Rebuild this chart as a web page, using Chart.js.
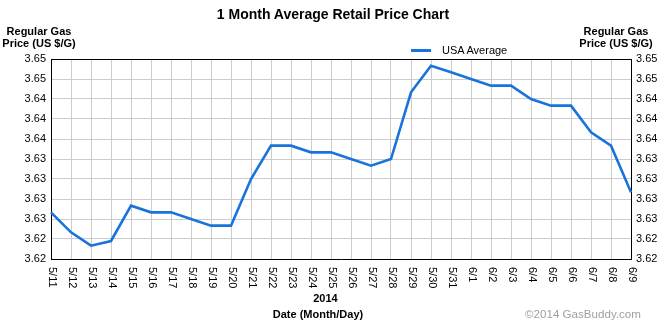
<!DOCTYPE html>
<html>
<head>
<meta charset="utf-8">
<title>1 Month Average Retail Price Chart</title>
<script src="https://cdn.jsdelivr.net/npm/chart.js@4.4.1/dist/chart.umd.min.js"></script>
<style>
  body { margin: 0; background: #fff; font-family: 'Liberation Sans', Arial, sans-serif; }
  #wrap { position: relative; width: 670px; height: 325px; overflow: hidden; }
  #wrap canvas { position: absolute; left: 0; top: 0; }
  .txt { position: absolute; white-space: nowrap; color: #000; line-height: 1; }
  .bold { font-weight: bold; }
  #title { left: 0; width: 666px; top: 6.5px; text-align: center; font-size: 14px; }
  .yhead { top: 25px; width: 76px; text-align: center; font-size: 11px; line-height: 12px; }
  #yhead-left { left: 1px; }
  #yhead-right { left: 578px; }
  #year { left: 300px; width: 51px; text-align: center; top: 293.4px; font-size: 11px; }
  #xtitle { left: 218px; width: 200px; text-align: center; top: 309px; font-size: 11px; }
  #credit { left: 525px; top: 308px; font-size: 11.6px; color: #a0a0a0; }
  #legend { left: 411px; top: 44.7px; font-size: 11px; }
  #legend .swatch { display: inline-block; width: 20px; height: 3px; vertical-align: 2px; margin-right: 11px; }
</style>
</head>
<body>
<div id="wrap">
  <canvas id="price-chart" width="670" height="325"></canvas>
  <div id="title" class="txt bold">1 Month Average Retail Price Chart</div>
  <div id="yhead-left" class="txt bold yhead">Regular Gas<br>Price (US $/G)</div>
  <div id="yhead-right" class="txt bold yhead">Regular Gas<br>Price (US $/G)</div>
  <div id="legend" class="txt"></div>
  <div id="year" class="txt bold">2014</div>
  <div id="xtitle" class="txt bold">Date (Month/Day)</div>
  <div id="credit" class="txt">©2014 GasBuddy.com</div>
</div>
<script>
// daily national average, regular gas
const dates = [
  '5/11', '5/12', '5/13', '5/14', '5/15', '5/16', '5/17', '5/18', '5/19', '5/20',
  '5/21', '5/22', '5/23', '5/24', '5/25', '5/26', '5/27', '5/28', '5/29', '5/30',
  '5/31', '6/1', '6/2', '6/3', '6/4', '6/5', '6/6', '6/7', '6/8', '6/9'
]
const usaAverage = [
  3.627, 3.624, 3.622, 3.6227, 3.628, 3.627, 3.627, 3.626, 3.625, 3.625,
  3.632, 3.637, 3.637, 3.636, 3.636, 3.635, 3.634, 3.635, 3.645, 3.649,
  3.648, 3.647, 3.646, 3.646, 3.644, 3.643, 3.643, 3.639, 3.637, 3.630
]
const yTickLabels = ['3.62', '3.62', '3.63', '3.63', '3.63', '3.63', '3.64', '3.64', '3.64', '3.65', '3.65']
const yMin = 3.62
const yMax = 3.65

const LINE_BLUE = '#1874db'
const FONT = "'Liberation Sans', Arial, sans-serif"

// legend swatch + label
document.getElementById('legend').innerHTML =
  `<span class="swatch" style="background:${LINE_BLUE}"></span>USA Average`

// top edge of the plot box (the axes draw the other three)
const plotFrame = {
  id: 'plotFrame',
  afterDraw(chart) {
    const { ctx, chartArea: a } = chart
    ctx.save()
    ctx.strokeStyle = '#000'
    ctx.lineWidth = 1
    ctx.beginPath()
    ctx.moveTo(a.left, Math.round(a.top) + 0.5)
    ctx.lineTo(a.right + 0.5, Math.round(a.top) + 0.5)
    ctx.stroke()
    ctx.restore()
  }
}

// date labels read top-down under each gridline
const dateLabels = {
  id: 'dateLabels',
  afterDraw(chart) {
    const { ctx } = chart
    const x = chart.scales.x
    ctx.save()
    ctx.fillStyle = '#000'
    ctx.font = `11px ${FONT}`
    ctx.textAlign = 'left'
    ctx.textBaseline = 'middle'
    dates.forEach((d, i) => {
      ctx.save()
      ctx.translate(x.getPixelForValue(i) + 1, x.top + 8)
      ctx.rotate(Math.PI / 2)
      ctx.fillText(d, 0, 0)
      ctx.restore()
    })
    ctx.restore()
  }
}

const yTicks = {
  count: 11,
  padding: 5,
  color: '#000',
  font: { family: FONT, size: 11 },
  callback: (v, i) => yTickLabels[i]
}

new Chart(document.getElementById('price-chart'), {
  type: 'line',
  data: {
    labels: dates,
    datasets: [{
      label: 'USA Average',
      data: usaAverage,
      borderColor: LINE_BLUE,
      borderWidth: 2.6,
      pointRadius: 0,
      tension: 0,
      fill: false
    }]
  },
  options: {
    responsive: false,
    animation: false,
    devicePixelRatio: 1,
    layout: { padding: { top: 59, left: 0, right: 0, bottom: 0 } },
    plugins: {
      legend: { display: false },
      title: { display: false },
      tooltip: { enabled: false }
    },
    scales: {
      x: {
        grid: { color: '#cccccc', lineWidth: 1, drawTicks: false },
        border: { color: '#000', width: 1 },
        ticks: { display: false },
        afterFit: (s) => { s.height = 66 }
      },
      y: {
        position: 'left',
        min: yMin,
        max: yMax,
        grid: { color: '#cccccc', lineWidth: 1, drawTicks: false },
        border: { color: '#000', width: 1 },
        ticks: yTicks,
        afterFit: (s) => { s.width = 51 }
      },
      y2: {
        position: 'right',
        min: yMin,
        max: yMax,
        grid: { drawOnChartArea: false, drawTicks: false },
        border: { color: '#000', width: 1 },
        ticks: yTicks,
        afterFit: (s) => { s.width = 39 }
      }
    }
  },
  plugins: [plotFrame, dateLabels]
})
</script>
</body>
</html>
